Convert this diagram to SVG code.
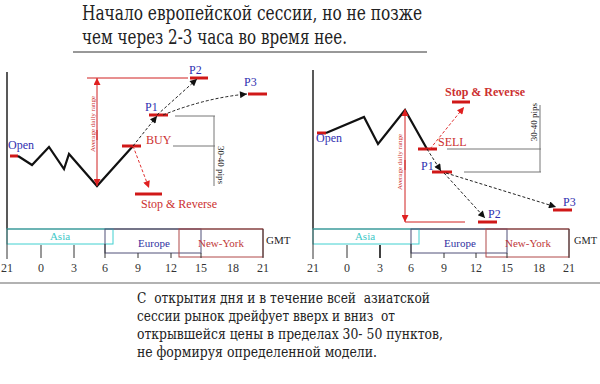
<svg xmlns="http://www.w3.org/2000/svg" width="600" height="384" viewBox="0 0 600 384">
<defs>
<marker id="ab" viewBox="0 0 10 10" refX="10" refY="5" markerWidth="9" markerHeight="7" markerUnits="userSpaceOnUse" orient="auto"><path d="M0,0 L10,5 L0,10 z" fill="#111"/></marker>
<marker id="ar" viewBox="0 0 10 10" refX="10" refY="5" markerWidth="9" markerHeight="7" markerUnits="userSpaceOnUse" orient="auto"><path d="M0,0 L10,5 L0,10 z" fill="#e02020"/></marker>
</defs>
<style>
text{font-family:"Liberation Serif","Times New Roman",serif}
.cyr{font-family:"DejaVu Serif","Liberation Serif",serif}
.title{font-size:20px;fill:#222}
.body{font-size:15px;fill:#222}
.blue{fill:#3030b0;font-size:12px}
.red{fill:#cc3030;font-size:12px}
.tick{font-size:12px;fill:#333}
.small{font-size:7px;fill:#cc3030}
.pips{font-size:9px;fill:#222}
.price{fill:none;stroke:#111;stroke-width:2.2;stroke-linejoin:miter}
.lvl{stroke:#d01818;stroke-width:3}
.dashb{fill:none;stroke:#222;stroke-width:1;stroke-dasharray:3,2}
.dashr{fill:none;stroke:#e03030;stroke-width:1;stroke-dasharray:3,2}
.rng{stroke:#d02020;stroke-width:1;fill:none}
.gray{stroke:#777;stroke-width:1;fill:none}
.axis{stroke:#222;stroke-width:1.5;fill:none}
.tl{stroke:#333;stroke-width:1;fill:none}
</style>
<rect width="600" height="384" fill="#fff"/>
<g id="title">
<text class="title cyr" x="82" y="20" textLength="340" lengthAdjust="spacingAndGlyphs">Начало европейской сессии, но не позже</text>
<text class="title cyr" x="82" y="44" textLength="265" lengthAdjust="spacingAndGlyphs">чем через 2-3 часа во время нее.</text>
<line x1="73" y1="52" x2="427" y2="52" stroke="#333" stroke-width="1"/>
</g>
<g id="left-chart">
<line class="axis" x1="7" y1="72" x2="7" y2="229"/>
<line class="lvl" x1="10" y1="156" x2="18" y2="156"/>
<text class="blue" x="8" y="149">Open</text>
<polyline class="price" points="18,156 32,165 49,147 64,169 69,154 97,186 133,146"/>
<line class="rng" x1="87" y1="78" x2="188" y2="78"/>
<line class="rng" x1="97" y1="140" x2="97" y2="78" marker-end="url(#ar)"/>
<line class="rng" x1="97" y1="130" x2="97" y2="186" marker-end="url(#ar)"/>
<text class="small" transform="translate(95,124) rotate(-90)" text-anchor="middle">Average daily range</text>
<line class="lvl" x1="122" y1="146" x2="141" y2="146"/>
<text class="red" x="146" y="144" font-size="13">BUY</text>
<line class="lvl" x1="149" y1="115" x2="168" y2="115"/>
<text class="blue" x="145" y="111">P1</text>
<line class="lvl" x1="190" y1="78" x2="208" y2="78"/>
<text class="blue" x="189" y="74">P2</text>
<line class="lvl" x1="248" y1="94" x2="267" y2="94"/>
<text class="blue" x="244" y="86">P3</text>
<line class="lvl" x1="135" y1="194" x2="162" y2="194"/>
<text class="red" x="141" y="208">Stop &amp; Reverse</text>
<line class="gray" x1="175" y1="116" x2="215" y2="116"/>
<line class="gray" x1="173" y1="146" x2="215" y2="146"/>
<line class="gray" x1="214" y1="186" x2="214" y2="116"/>
<text class="pips" transform="translate(218,165) rotate(90)" text-anchor="middle">30-40 pips</text>
</g>
<g id="left-connectors">
<line class="dashb" x1="133" y1="146" x2="157" y2="116" marker-end="url(#ab)"/>
<line class="dashb" x1="157" y1="115" x2="197" y2="79" marker-end="url(#ab)"/>
<path class="dashb" d="M163,115 Q205,98 247,94" marker-end="url(#ab)"/>
<line class="dashr" x1="133" y1="146" x2="149" y2="188" marker-end="url(#ar)"/>
</g>
<g id="left-timeline">
<line class="tl" x1="7" y1="229" x2="263" y2="229"/>
<rect x="7" y="229" width="106" height="15" fill="none" stroke="#40d0d0"/>
<text x="60" y="240" text-anchor="middle" font-size="11" fill="#40c8c8">Asia</text>
<rect x="105" y="229" width="96" height="24" fill="none" stroke="#505078"/>
<text x="154" y="247" text-anchor="middle" font-size="11" fill="#3030a0">Europe</text>
<rect x="179" y="229" width="84" height="28" fill="none" stroke="#b04848"/>
<text x="221" y="247" text-anchor="middle" font-size="11" fill="#c03838">New-York</text>
<text x="266" y="244" font-size="11" fill="#222">GMT</text>
<g class="tl">
<line x1="7" y1="229" x2="7" y2="259"/>
<line x1="41" y1="245" x2="41" y2="258"/>
<line x1="74" y1="245" x2="74" y2="258"/>
<line x1="105" y1="244" x2="105" y2="258"/>
<line x1="138" y1="253" x2="138" y2="258"/>
<line x1="171" y1="253" x2="171" y2="258"/>
<line x1="201" y1="253" x2="201" y2="258"/>
<line x1="263" y1="229" x2="263" y2="258"/>
</g>
<g class="tick" text-anchor="middle">
<text x="7" y="272">21</text><text x="41" y="272">0</text><text x="74" y="272">3</text><text x="105" y="272">6</text><text x="138" y="272">9</text><text x="171" y="272">12</text><text x="201" y="272">15</text><text x="233" y="272">18</text><text x="263" y="272">21</text>
</g>
</g>
<g id="right-chart">
<line class="axis" x1="313" y1="70" x2="313" y2="229" stroke-width="1"/>
<line class="lvl" x1="317" y1="133" x2="326" y2="133"/>
<text class="blue" x="316" y="142">Open</text>
<polyline class="price" points="326,133 364,117 378,144 405,110 427,149"/>
<line class="rng" x1="405" y1="222" x2="465" y2="222"/>
<line class="rng" x1="405" y1="170" x2="405" y2="109" marker-end="url(#ar)"/>
<line class="rng" x1="405" y1="160" x2="405" y2="222" marker-end="url(#ar)"/>
<text class="small" transform="translate(402,162) rotate(-90)" text-anchor="middle">Average daily range</text>
<line class="lvl" x1="418" y1="149" x2="437" y2="149"/>
<text class="red" x="438" y="146" font-size="13">SELL</text>
<line class="lvl" x1="432" y1="172" x2="452" y2="172"/>
<text class="blue" x="421" y="170">P1</text>
<line class="lvl" x1="478" y1="222" x2="497" y2="222"/>
<text class="blue" x="488" y="218">P2</text>
<line class="lvl" x1="553" y1="210" x2="572" y2="210"/>
<text class="blue" x="563" y="206">P3</text>
<line class="lvl" x1="452" y1="102" x2="470" y2="102"/>
<text class="red" x="445" y="96" font-weight="bold">Stop &amp; Reverse</text>
<line class="gray" x1="447" y1="149" x2="541" y2="149"/>
<line class="gray" x1="464" y1="172" x2="541" y2="172"/>
<line class="gray" x1="540" y1="105" x2="540" y2="172"/>
<text class="pips" transform="translate(537,122) rotate(-90)" text-anchor="middle">30-40 pips</text>
</g>
<g id="right-connectors">
<line class="dashb" x1="427" y1="149" x2="441" y2="171" marker-end="url(#ab)"/>
<line class="dashb" x1="444" y1="173" x2="485" y2="218" marker-end="url(#ab)"/>
<line class="dashb" x1="446" y1="173" x2="556" y2="207" marker-end="url(#ab)"/>
<line class="dashr" x1="430" y1="149" x2="464" y2="107" marker-end="url(#ar)"/>
</g>
<g id="right-timeline">
<line class="tl" x1="313" y1="229" x2="569" y2="229"/>
<rect x="313" y="229" width="106" height="15" fill="none" stroke="#40d0d0"/>
<text x="365" y="240" text-anchor="middle" font-size="11" fill="#40c8c8">Asia</text>
<rect x="411" y="229" width="96" height="24" fill="none" stroke="#505078"/>
<text x="460" y="247" text-anchor="middle" font-size="11" fill="#3030a0">Europe</text>
<rect x="486" y="229" width="83" height="28" fill="none" stroke="#b04848"/>
<text x="528" y="247" text-anchor="middle" font-size="11" fill="#c03838">New-York</text>
<text x="574" y="244" font-size="11" fill="#222" textLength="23" lengthAdjust="spacingAndGlyphs">GMT</text>
<g class="tl">
<line x1="313" y1="229" x2="313" y2="259"/>
<line x1="347" y1="245" x2="347" y2="258"/>
<line x1="380" y1="245" x2="380" y2="258" stroke-width="1.5" stroke="#000"/>
<line x1="411" y1="244" x2="411" y2="258"/>
<line x1="444" y1="253" x2="444" y2="258"/>
<line x1="476" y1="253" x2="476" y2="258"/>
<line x1="507" y1="253" x2="507" y2="258"/>
<line x1="569" y1="229" x2="569" y2="258"/>
</g>
<g class="tick" text-anchor="middle">
<text x="313" y="272">21</text><text x="347" y="272">0</text><text x="380" y="272">3</text><text x="411" y="272">6</text><text x="444" y="272">9</text><text x="476" y="272">12</text><text x="507" y="272">15</text><text x="539" y="272">18</text><text x="569" y="272">21</text>
</g>
</g>
<line x1="0" y1="283" x2="600" y2="283" stroke="#999" stroke-width="1.5"/>
<g id="body">
<text class="body cyr" x="137" y="303" xml:space="preserve" textLength="293" lengthAdjust="spacingAndGlyphs">С  открытия дня и в течение всей  азиатской</text>
<text class="body cyr" x="137" y="321" xml:space="preserve" textLength="258" lengthAdjust="spacingAndGlyphs">сессии рынок дрейфует вверх и вниз  от</text>
<text class="body cyr" x="137" y="339" textLength="306" lengthAdjust="spacingAndGlyphs">открывшейся цены в пределах 30- 50 пунктов,</text>
<text class="body cyr" x="137" y="357" textLength="240" lengthAdjust="spacingAndGlyphs">не формируя определенной модели.</text>
</g>
</svg>
